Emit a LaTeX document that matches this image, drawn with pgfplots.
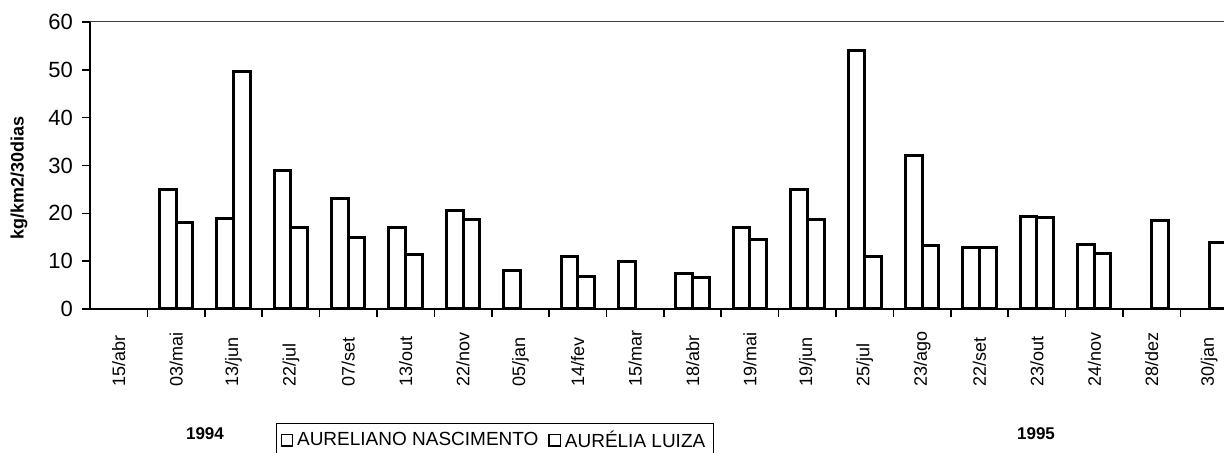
\documentclass[border=0pt]{standalone}
\usepackage{fontspec}
\setmainfont{Liberation Sans}
\usepackage{pgfplots}
\pgfplotsset{compat=1.18}
\begin{document}
\begin{tikzpicture}
\begin{axis}[
  name=ax,
  at={(0,0)}, anchor=south west,
  scale only axis,
  width=567pt, height=143.5pt,
  xmin=-0.5, xmax=19.26,
  ymin=0, ymax=60,
  ybar=0pt, bar width=0.29,
  axis lines*=left,
  axis line style={line width=1pt, -},
  tick align=outside,
  major tick length=4pt,
  tick style={black, line width=0.8pt},
  ytick={0,10,...,60},
  yticklabel style={font=\fontsize{11}{13}\selectfont, xshift=-1pt},
  /pgf/number format/assume math mode=true,
  xtick={0.5,1.5,...,18.5},
  xticklabels={},
  extra x ticks={0,1,...,19},
  extra x tick labels={15/abr,03/mai,13/jun,22/jul,07/set,13/out,22/nov,05/jan,14/fev,15/mar,18/abr,19/mai,19/jun,25/jul,23/ago,22/set,23/out,24/nov,28/dez,30/jan},
  extra x tick style={major tick length=0pt,
     xticklabel style={yshift=-39pt, rotate=90, anchor=west, inner sep=0pt, font=\fontsize{9}{10}\selectfont}},
  ylabel={\bfseries kg/km2/30dias},
  ylabel style={at={(axis description cs:-0.0626,0.456)}, anchor=center, font=\fontsize{9}{11}\selectfont},
  legend columns=2,
  legend style={at={(axis description cs:0.164,-0.397)}, anchor=north west, draw=black, line width=0.7pt,
     font=\fontsize{9.5}{11}\selectfont, inner xsep=2pt, inner ysep=1.5pt,
     /tikz/every even column/.append style={column sep=3pt}},
  legend image code/.code={\draw[black,line width=0.6pt,fill=white] (0pt,-2.8pt) rectangle (5.6pt,2.8pt);},
]
% AURELIANO NASCIMENTO
\addplot[draw=black, fill=white, line width=1.5pt] coordinates {
 (1,25) (2,19) (3,29) (4,23) (5,17) (6,20.5) (7,8) (8,11) (9,10) (10,7.5)
 (11,17) (12,25) (13,54) (14,32) (15,12.8) (16,19.4) (17,13.5)
};
% AURELIA LUIZA
\addplot[draw=black, fill=white, line width=1.5pt] coordinates {
 (1,18) (2,49.6) (3,17) (4,15) (5,11.3) (6,18.8) (8,6.8) (10,6.5)
 (11,14.5) (12,18.7) (13,10.9) (14,13.2) (15,12.8) (16,19.2) (17,11.6) (18,18.6) (19,14)
};
\legend{AURELIANO NASCIMENTO, AURÉLIA LUIZA}
\end{axis}
\draw[line width=0.5pt, black!75] (0,143.5pt) -- (567pt,143.5pt);
\node[font=\bfseries\fontsize{8.5}{10}\selectfont] at (57.5pt,-62.5pt) {1994};
\node[font=\bfseries\fontsize{8.5}{10}\selectfont] at (473pt,-62.5pt) {1995};
\pgfresetboundingbox
\useasboundingbox (-45pt,-72pt) rectangle (567pt,154.5pt);
\end{tikzpicture}
\end{document}
